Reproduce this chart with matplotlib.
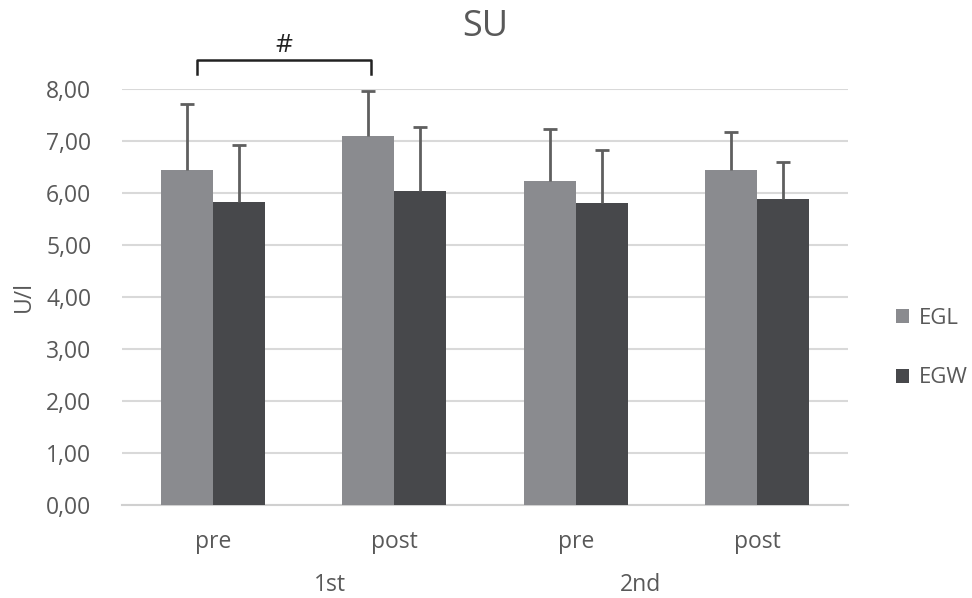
import matplotlib
matplotlib.use("Agg")
import matplotlib.pyplot as plt
import numpy as np

plt.rcParams['font.family'] = ['Open Sans', 'DejaVu Sans']

categories = ["pre", "post", "pre", "post"]
groups = ["1st", "2nd"]
series_names = ["EGL", "EGW"]
egl_mean = [6.44, 7.10, 6.24, 6.44]
egl_sd = [1.28, 0.87, 1.00, 0.73]
egw_mean = [5.83, 6.03, 5.81, 5.89]
egw_sd = [1.09, 1.23, 1.02, 0.71]
yticks = [0, 1, 2, 3, 4, 5, 6, 7, 8]

txt = '#595959'
fig = plt.figure(figsize=(9.72, 5.98), dpi=100)
ax = fig.add_axes([122/972, 1-505/598, (848-122)/972, (505-89)/598])

x = np.arange(len(categories))
w = 52/181.5
ekw = dict(ecolor='#5f5f5f', elinewidth=2, capsize=5, capthick=2)
ax.bar(x - w/2, egl_mean, w, color='#8a8b8f', label=series_names[0], zorder=3)
ax.bar(x + w/2, egw_mean, w, color='#47484b', label=series_names[1], zorder=3)
for xs, m, sd in [(x - w/2, egl_mean, egl_sd), (x + w/2, egw_mean, egw_sd)]:
    eb = ax.errorbar(xs, m, yerr=[np.zeros(len(m)), sd], fmt='none', zorder=4, **ekw)
    caps = eb[1]
    if len(caps) == 2:
        caps[0].set_visible(False)

ax.set_xlim(-0.5, 3.5)
ax.set_ylim(0, 8)
ax.set_yticks(yticks)
ax.set_yticklabels([f"{v:.2f}".replace('.', ',') for v in yticks], fontsize=16.5, color=txt)
ax.yaxis.grid(True, color='#d9d9d9', linewidth=1.5, zorder=0)
ax.set_axisbelow(True)
for s in ['top', 'right', 'left']:
    ax.spines[s].set_visible(False)
ax.spines['bottom'].set_color('#d0d0d0')
ax.spines['bottom'].set_linewidth(1.5)
ax.tick_params(axis='both', length=0)
ax.tick_params(axis='y', pad=22)
ax.set_xticks(x)
ax.set_xticklabels(categories, fontsize=16.5, color=txt)
ax.tick_params(axis='x', pad=18)

group_x = [(330-122)/181.5 - 0.5, (640-122)/181.5 - 0.5]
for gx, g in zip(group_x, groups):
    ax.text(gx, -(585-505)/52, g, ha='center', va='center', fontsize=16.5, color=txt)

fig.text(24/972, 1-297/598, "U/l", rotation=90, ha='center', va='center',
         fontsize=16.5, color=txt)
ax.text(0.5, (505-27)/416, "SU", transform=ax.transAxes, ha='center', va='center',
        fontsize=26, color=txt)

# significance bracket
x0 = (197-122)/181.5 - 0.5
x1 = (371-122)/181.5 - 0.5
ax.plot([x0, x0, x1, x1], [8.29, 8.56, 8.56, 8.29], color='#222222', lw=1.8, clip_on=False)
ax.text((x0+x1)/2, (505-45)/52, "#", ha='center', va='center', fontsize=19, color='#222222')

leg = fig.legend(loc='center left', bbox_to_anchor=(876/972, 1-348/598), frameon=False,
                 fontsize=16, labelcolor=txt, handlelength=0.6, handleheight=0.6,
                 labelspacing=1.75, handletextpad=0.45)

fig.savefig("out.png", dpi=100)
